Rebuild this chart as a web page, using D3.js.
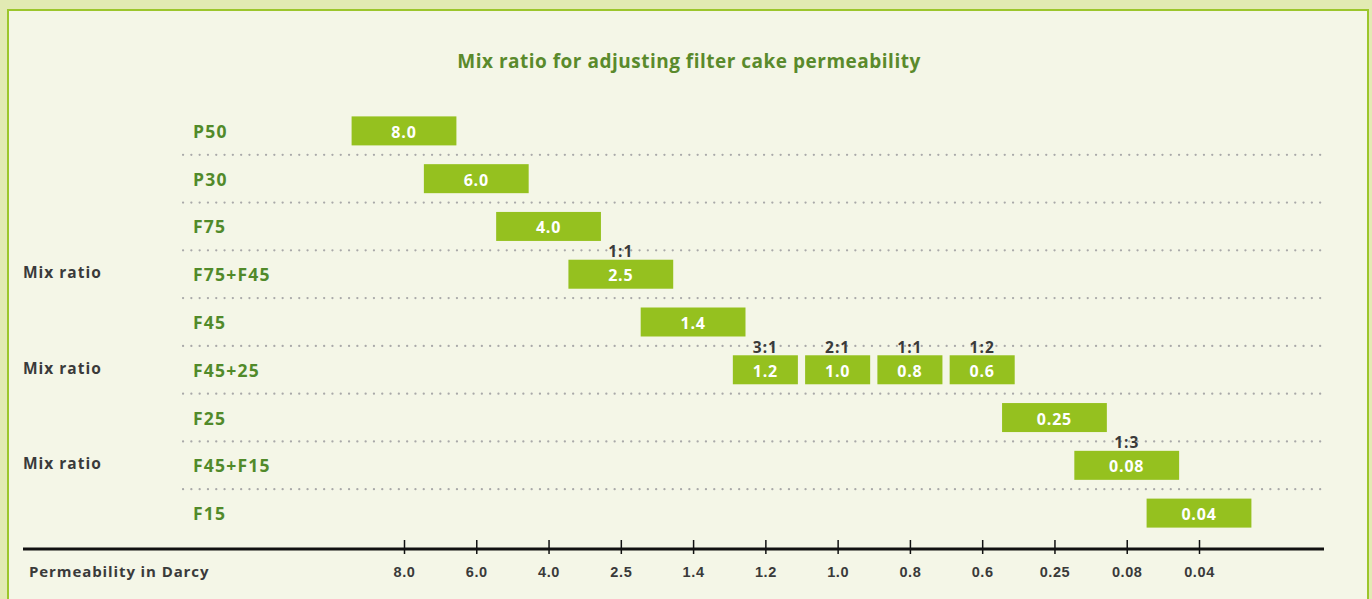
<!DOCTYPE html>
<html>
<head>
<meta charset="utf-8">
<script src="https://cdn.jsdelivr.net/npm/d3@7"></script>
<style>
  body { margin: 0; background: #e2eab3; }
  svg { display: block; font-family: "Open Sans", "Lato", sans-serif; }
</style>
</head>
<body>
<svg></svg>
<script>
const width = 1372;
const height = 599;

// tick labels of the permeability axis (Darcy)
const ticks = ["8.0", "6.0", "4.0", "2.5", "1.4", "1.2", "1.0", "0.8", "0.6", "0.25", "0.08", "0.04"];

// filter aid grades, top to bottom
const grades = ["P50", "P30", "F75", "F75+F45", "F45", "F45+25", "F25", "F45+F15", "F15"];

// bars: grade, permeability, mix ratio ("" when none)
const barGrade = ["P50", "P30", "F75", "F75+F45", "F45", "F45+25", "F45+25", "F45+25", "F45+25", "F25", "F45+F15", "F15"];
const barValue = ["8.0", "6.0", "4.0", "2.5", "1.4", "1.2", "1.0", "0.8", "0.6", "0.25", "0.08", "0.04"];
const barRatio = ["", "", "", "1:1", "", "3:1", "2:1", "1:1", "1:2", "", "1:3", ""];

// left side notes
const mixRows = ["F75+F45", "F45+25", "F45+F15"];

const title = "Mix ratio for adjusting filter cake permeability";
const axisTitle = "Permeability in Darcy";

const green = "#95c11f";
const labelGreen = "#518a2a";
const dark = "#3a3a3a";

let svg = d3.select("svg")
    .attr("width", width)
    .attr("height", height);

// frame
svg.append("rect")
    .attr("x", 8).attr("y", 10)
    .attr("width", 1360).attr("height", 600)
    .attr("fill", "#f4f6e7")
    .attr("stroke", "#9cc62c")
    .attr("stroke-width", 2);

svg.append("text")
    .attr("x", 689).attr("y", 61)
    .attr("text-anchor", "middle")
    .attr("dominant-baseline", "central")
    .attr("fill", "#5a8a2c")
    .style("font-size", "19px")
    .style("letter-spacing", "0.5px")
    .style("font-weight", "bold")
    .text(title);

// scales
let scaleX = d3.scalePoint()
    .domain(ticks)
    .range([404, 1199]);

let scaleY = d3.scaleBand()
    .domain(grades)
    .range([107, 537]);

const step = scaleX.step();

// number of bars in each row, so mixed rows get narrower bars
let rowCount = d3.rollup(barGrade, v => v.length, d => d);
const barW = g => rowCount.get(g) > 1 ? step * 0.9 : step * 1.45;
const barH = 29;

// dotted separators between rows
svg.selectAll(".sep")
    .data(grades.slice(1))
    .enter()
    .append("line")
    .attr("x1", 183).attr("x2", 1322)
    .attr("y1", d => scaleY(d))
    .attr("y2", d => scaleY(d))
    .attr("stroke", "#a9a9a9")
    .attr("stroke-width", 2.2)
    .attr("stroke-linecap", "round")
    .attr("stroke-dasharray", "0.1 8.2");

// row labels
svg.selectAll(".grade")
    .data(grades)
    .enter()
    .append("text")
    .attr("x", 193)
    .attr("y", d => scaleY(d) + scaleY.bandwidth() / 2)
    .attr("dominant-baseline", "central")
    .attr("fill", labelGreen)
    .style("font-size", "17.5px")
    .style("letter-spacing", "1.2px")
    .style("font-weight", "bold")
    .text(d => d);

svg.selectAll(".mix")
    .data(mixRows)
    .enter()
    .append("text")
    .attr("x", 23)
    .attr("y", d => scaleY(d) + scaleY.bandwidth() / 2 - 2)
    .attr("dominant-baseline", "central")
    .attr("fill", dark)
    .style("font-size", "15.5px")
    .style("letter-spacing", "1px")
    .style("font-weight", "bold")
    .text("Mix ratio");

// bars
let bars = barValue.map((v, i) => ({grade: barGrade[i], value: v, ratio: barRatio[i]}));

svg.selectAll(".bar")
    .data(bars)
    .enter()
    .append("rect")
    .attr("x", d => scaleX(d.value) - barW(d.grade) / 2)
    .attr("y", d => scaleY(d.grade) + scaleY.bandwidth() / 2 - barH / 2)
    .attr("width", d => barW(d.grade))
    .attr("height", barH)
    .attr("fill", green);

svg.selectAll(".val")
    .data(bars)
    .enter()
    .append("text")
    .attr("x", d => scaleX(d.value))
    .attr("y", d => scaleY(d.grade) + scaleY.bandwidth() / 2 + 1)
    .attr("text-anchor", "middle")
    .attr("dominant-baseline", "central")
    .attr("fill", "#fff")
    .style("font-size", "16px")
    .style("letter-spacing", "0.8px")
    .style("font-weight", "bold")
    .text(d => d.value);

// ratio labels sit on the separator above the bar
svg.selectAll(".ratio")
    .data(bars.filter(d => d.ratio))
    .enter()
    .append("text")
    .attr("x", d => scaleX(d.value))
    .attr("y", d => scaleY(d.grade) + 1)
    .attr("text-anchor", "middle")
    .attr("dominant-baseline", "central")
    .attr("fill", dark)
    .style("font-size", "15.5px")
    .style("letter-spacing", "1px")
    .style("font-weight", "bold")
    .text(d => d.ratio);

// axis
let axisX = d3.axisBottom(scaleX).tickSize(0).tickPadding(0);
let gx = svg.append("g")
    .attr("transform", "translate(0, 549)")
    .call(axisX);
gx.select(".domain").remove();
gx.selectAll(".tick text").remove();

svg.append("line")
    .attr("x1", 23).attr("x2", 1324)
    .attr("y1", 549).attr("y2", 549)
    .attr("stroke", "#111")
    .attr("stroke-width", 3);

gx.selectAll(".tick").append("line")
    .attr("y1", -9).attr("y2", 5)
    .attr("stroke", "#111")
    .attr("stroke-width", 1.5);

gx.selectAll(".tick").append("text")
    .attr("y", 23)
    .attr("text-anchor", "middle")
    .attr("dominant-baseline", "central")
    .attr("fill", dark)
    .style("font-size", "14.5px")
    .style("letter-spacing", "0.6px")
    .style("font-weight", "bold")
    .text(d => d);

svg.append("text")
    .attr("x", 29).attr("y", 571)
    .attr("dominant-baseline", "central")
    .attr("fill", dark)
    .style("font-size", "15px")
    .style("letter-spacing", "0.9px")
    .style("font-weight", "bold")
    .text(axisTitle);
</script>
</body>
</html>
